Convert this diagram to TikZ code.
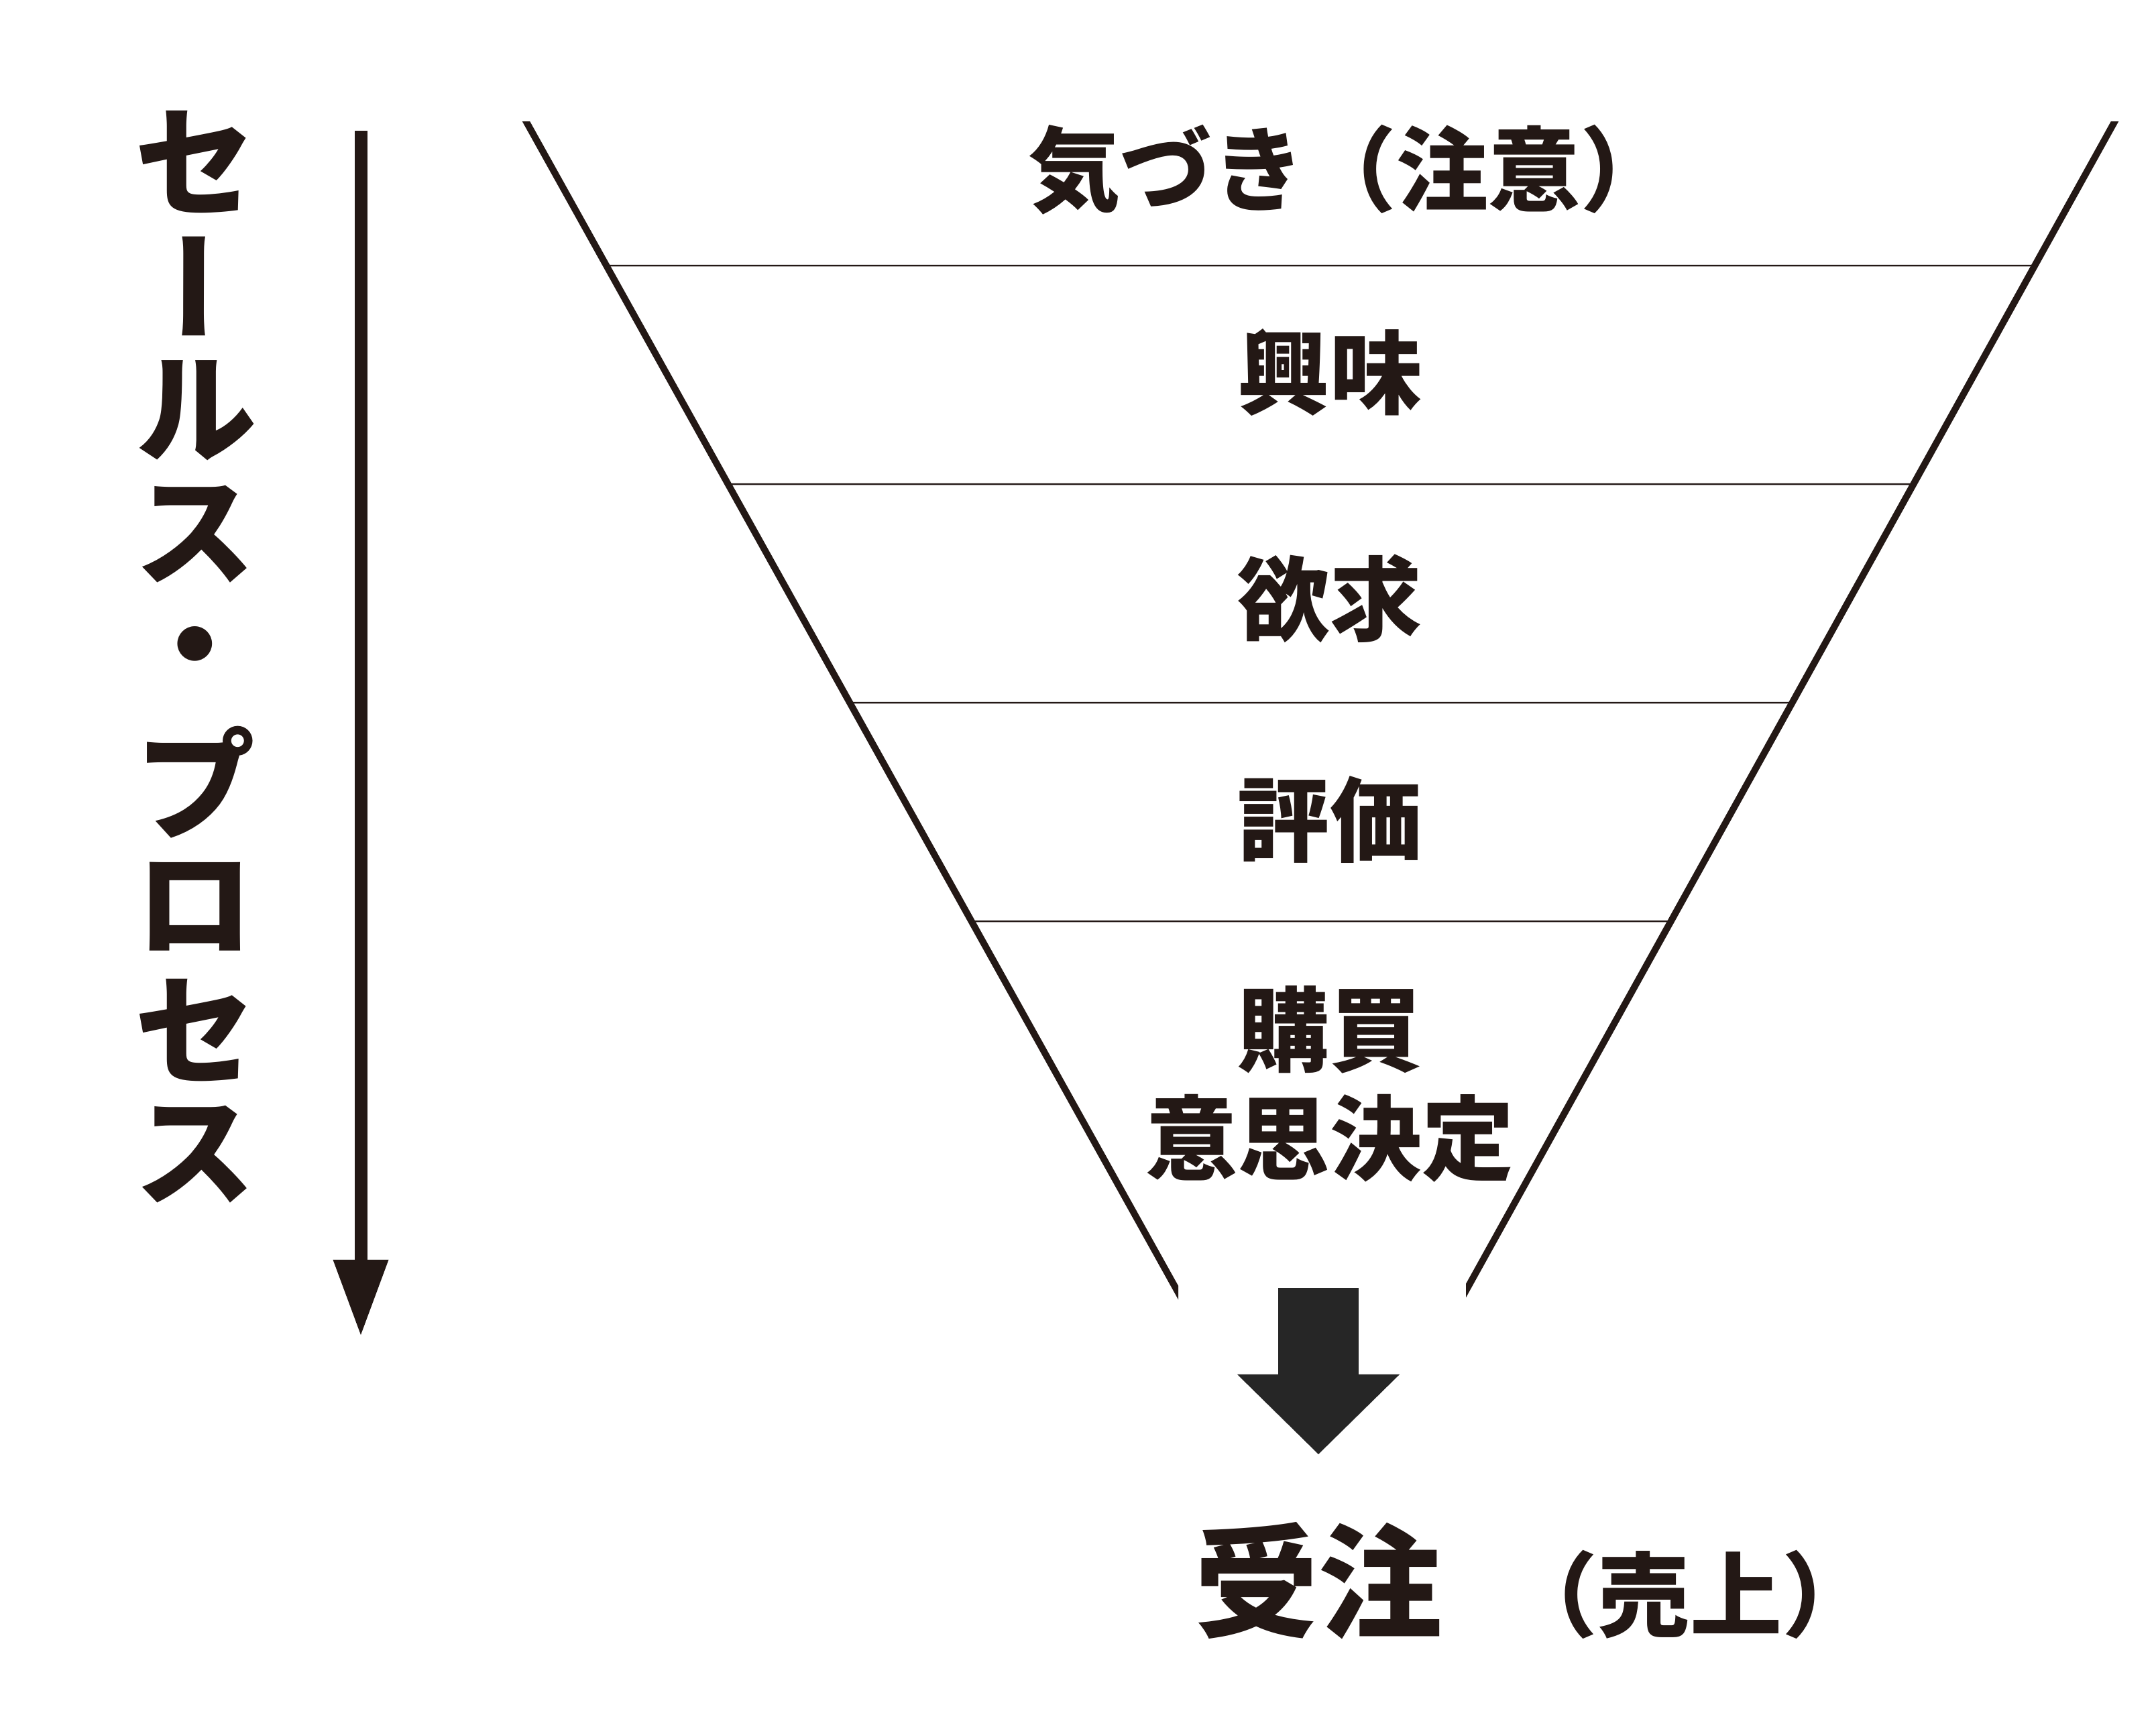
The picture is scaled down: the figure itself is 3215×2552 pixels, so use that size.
\documentclass[tikz,border=0pt]{standalone}
\usepackage{fontspec}
\newfontfamily\jp{Noto Sans CJK JP}
\newfontfamily\jpv{Noto Sans CJK JP}[RawFeature=+vert]
\usetikzlibrary{arrows.meta,calc}
\definecolor{ink}{HTML}{231815}
\definecolor{bigarrow}{HTML}{262626}
\begin{document}
\begin{tikzpicture}[x=0.01cm,y=-0.01cm,
  lbl/.style={font=\jp\bfseries\fontsize{39}{46}\selectfont, text=ink, inner sep=0pt, align=center},
  biglbl/.style={font=\jp\bfseries\fontsize{52.5}{60}\selectfont, text=ink, inner sep=0pt},
  vch/.style={font=\jpv\bfseries\fontsize{52.5}{60}\selectfont, text=ink, inner sep=0pt},
  side/.style={draw=ink, line width=0.1cm},
  tier/.style={draw=ink, line width=0.025cm},
  procarrow/.style={draw=ink, line width=0.19cm, -{Triangle[width=0.83cm,length=1.12cm,line width=0pt]}},
  bigarr/.style={draw=bigarrow, line width=1.19cm, -{Triangle[width=2.42cm,length=1.19cm,line width=0pt]}}]
\useasboundingbox (0,0) rectangle (3215,2552);

% funnel sides
\coordinate (LT) at (785,182);
\coordinate (LB) at (1757,1928);
\coordinate (RT) at (3153,182);
\coordinate (RB) at (2186,1925);
\begin{scope}
  \clip (0,182) rectangle (1757,2552);
  \draw[side] ($(LT)!-0.05!(LB)$) -- ($(LT)!1.05!(LB)$);
\end{scope}
\begin{scope}
  \clip (2186,182) rectangle (3215,2552);
  \draw[side] ($(RT)!-0.05!(RB)$) -- ($(RT)!1.05!(RB)$);
\end{scope}

% tier lines
\foreach \yy/\nm in {396/a,722/b,1048/c,1374/d}{
  \coordinate (\nm L) at (intersection of LT--LB and 0,\yy--100,\yy);
  \coordinate (\nm R) at (intersection of RT--RB and 0,\yy--100,\yy);
  \draw[tier] (\nm L) -- (\nm R);
}

% funnel labels
\node[lbl, anchor=west] (kizuki) at (1533,253) {気づき（注意）};
\node[lbl] (kyomi) at (1983,555) {興味};
\node[lbl] (yokkyu) at (1983,893) {欲求};
\node[lbl] (hyoka) at (1983,1223) {評価};
\node[lbl] (kobai) at (1983,1617) {購買\\意思決定};

% big arrow and result
\coordinate (bs) at (1966,1921);
\coordinate (be) at (1966,2169);
\draw[bigarr] (bs) -- (be);
\node[biglbl] (juchu) at (1966,2358) {受注};
\node[lbl] (uriage) at (2520,2378) {（売上）};

% sales process vertical text
\foreach \c [count=\i from 0] in {セ,ー,ル,ス,・,プ,ロ,セ,ス}{
  \node[vch] (v\i) at (291,{242+185*\i}) {\c};
}

% process arrow
\coordinate (ps) at (538,195);
\coordinate (pe) at (538,1991);
\draw[procarrow] (ps) -- (pe);
\end{tikzpicture}
\end{document}
